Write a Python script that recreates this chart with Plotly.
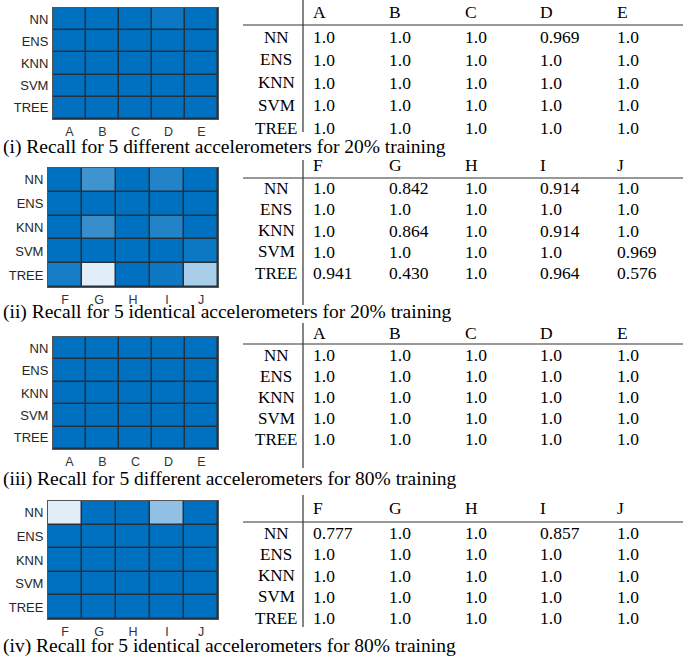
import plotly.graph_objects as go

W, H = 697, 657

# ---------------- data ----------------
models = ["NN", "ENS", "KNN", "SVM", "TREE"]
different_accels = ["A", "B", "C", "D", "E"]
identical_accels = ["F", "G", "H", "I", "J"]

recall_different_20 = [
    [1.0, 1.0, 1.0, 0.969, 1.0],
    [1.0, 1.0, 1.0, 1.0, 1.0],
    [1.0, 1.0, 1.0, 1.0, 1.0],
    [1.0, 1.0, 1.0, 1.0, 1.0],
    [1.0, 1.0, 1.0, 1.0, 1.0],
]
recall_identical_20 = [
    [1.0, 0.842, 1.0, 0.914, 1.0],
    [1.0, 1.0, 1.0, 1.0, 1.0],
    [1.0, 0.864, 1.0, 0.914, 1.0],
    [1.0, 1.0, 1.0, 1.0, 0.969],
    [0.941, 0.430, 1.0, 0.964, 0.576],
]
recall_different_80 = [
    [1.0, 1.0, 1.0, 1.0, 1.0],
    [1.0, 1.0, 1.0, 1.0, 1.0],
    [1.0, 1.0, 1.0, 1.0, 1.0],
    [1.0, 1.0, 1.0, 1.0, 1.0],
    [1.0, 1.0, 1.0, 1.0, 1.0],
]
recall_identical_80 = [
    [0.777, 1.0, 1.0, 0.857, 1.0],
    [1.0, 1.0, 1.0, 1.0, 1.0],
    [1.0, 1.0, 1.0, 1.0, 1.0],
    [1.0, 1.0, 1.0, 1.0, 1.0],
    [1.0, 1.0, 1.0, 1.0, 1.0],
]
captions = [
    "(i) Recall for 5 different accelerometers for 20% training",
    "(ii) Recall for 5 identical accelerometers for 20% training",
    "(iii) Recall for 5 different accelerometers for 80% training",
    "(iv) Recall for 5 identical accelerometers for 80% training",
]

# ---------------- layout / style ----------------
panels = [
    dict(z=recall_different_20, cols=different_accels, zmin=0.4,
         hx=(53, 218), hy=(8, 119), cap=147,
         th=12, tl=25, rows=(37, 128), vl=(0, 132)),
    dict(z=recall_identical_20, cols=identical_accels, zmin=0.42,
         hx=(48, 218), hy=(168, 287), cap=312,
         th=165, tl=178, rows=(188, 273), vl=(160, 305)),
    dict(z=recall_different_80, cols=different_accels, zmin=0.5,
         hx=(53, 218), hy=(337, 449), cap=479,
         th=333, tl=344, rows=(355, 439), vl=(323, 468)),
    dict(z=recall_identical_80, cols=identical_accels, zmin=0.772,
         hx=(48, 218), hy=(501, 619), cap=646,
         th=508, tl=522, rows=(533, 618), vl=(495, 627)),
]
col_x = [313, 389, 465, 540, 617]
rowlabel_x = 276
hline_x = (243, 683)

SERIF = "Liberation Serif, Times New Roman, serif"
SANS = "Liberation Sans, Arial, sans-serif"
BLUE_SCALE = [[0.0, "rgb(230,240,248)"], [1.0, "rgb(0,112,192)"]]


def fx(x):
    return x / W


def fy(y):
    return 1 - y / H


def fmt(v):
    return "1.0" if v == 1.0 else f"{v:.3f}"


fig = go.Figure()
annotations = []
shapes = []

for i, p in enumerate(panels):
    k = "" if i == 0 else str(i + 1)
    fig.add_trace(go.Heatmap(
        z=p["z"], x=p["cols"], y=models,
        xaxis="x" + k, yaxis="y" + k,
        colorscale=BLUE_SCALE, zmin=p["zmin"], zmax=1.0,
        showscale=False, xgap=1.5, ygap=1.5, hoverinfo="skip",
    ))
    fig.layout["xaxis" + k] = dict(
        domain=[fx(p["hx"][0]), fx(p["hx"][1])], anchor="y" + k,
        showgrid=False, zeroline=False, showline=True, mirror=True,
        linecolor="#555555", linewidth=1,
        ticks="outside", ticklen=1, tickcolor="rgba(0,0,0,0)",
        tickfont=dict(family=SANS, size=12.5, color="#333333"),
        fixedrange=True,
    )
    fig.layout["yaxis" + k] = dict(
        domain=[fy(p["hy"][1]), fy(p["hy"][0])], anchor="x" + k,
        autorange="reversed",
        showgrid=False, zeroline=False, showline=True, mirror=True,
        linecolor="#555555", linewidth=1,
        ticks="outside", ticklen=1, tickcolor="rgba(0,0,0,0)",
        tickfont=dict(family=SANS, size=13, color="#262626"),
        fixedrange=True,
    )

    # caption
    annotations.append(dict(
        text=captions[i], x=fx(1), y=fy(p["cap"]), xref="paper", yref="paper",
        xanchor="left", yanchor="middle", showarrow=False,
        font=dict(family=SERIF, size=19.5, color="#000000"),
    ))

    # table header
    for c, name in enumerate(p["cols"]):
        annotations.append(dict(
            text=name, x=fx(col_x[c] - 2), y=fy(p["th"]), xref="paper", yref="paper",
            xanchor="left", yanchor="middle", showarrow=False,
            font=dict(family=SERIF, size=17.5, color="#000000"),
        ))
    # table body
    r0, r1 = p["rows"]
    step = (r1 - r0) / (len(models) - 1)
    for r, m in enumerate(models):
        yy = r0 + r * step
        annotations.append(dict(
            text=m, x=fx(rowlabel_x), y=fy(yy), xref="paper", yref="paper",
            xanchor="center", yanchor="middle", showarrow=False,
            font=dict(family=SERIF, size=17, color="#000000"),
        ))
        for c in range(len(p["cols"])):
            annotations.append(dict(
                text=fmt(p["z"][r][c]), x=fx(col_x[c] - 2), y=fy(yy),
                xref="paper", yref="paper",
                xanchor="left", yanchor="middle", showarrow=False,
                font=dict(family=SERIF, size=17.5, color="#000000"),
            ))
    # table rules
    shapes.append(dict(type="line", xref="paper", yref="paper",
                       x0=fx(hline_x[0]), x1=fx(hline_x[1]),
                       y0=fy(p["tl"]), y1=fy(p["tl"]),
                       line=dict(color="#333333", width=1.2)))
    shapes.append(dict(type="line", xref="paper", yref="paper",
                       x0=fx(303), x1=fx(303),
                       y0=fy(p["vl"][0]), y1=fy(p["vl"][1]),
                       line=dict(color="#333333", width=1.2)))

fig.update_layout(
    width=W, height=H, autosize=False,
    margin=dict(l=0, r=0, t=0, b=0),
    paper_bgcolor="white", plot_bgcolor="#25313d",
    annotations=annotations, shapes=shapes,
    showlegend=False,
)

fig.write_html("out.html", config={"displayModeBar": False},
               post_script="document.body.style.margin='0px';")
